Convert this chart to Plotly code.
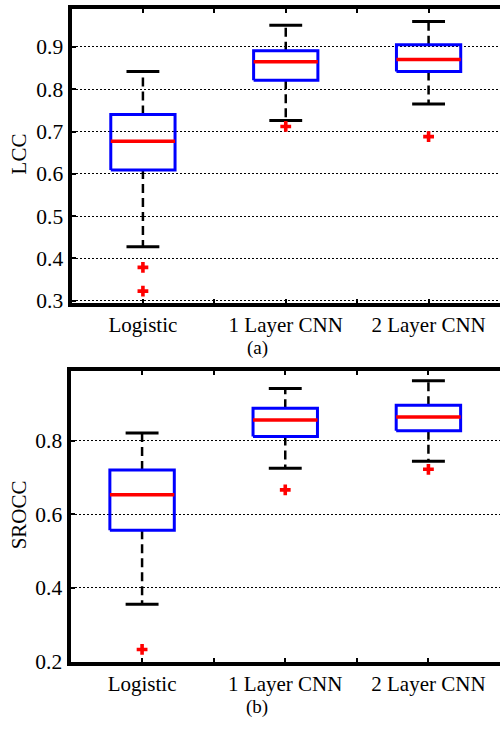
import plotly.graph_objects as go

categories = ["Logistic", "1 Layer CNN", "2 Layer CNN"]
positions = [1, 2, 3]

lcc_upper = [0.842, 0.951, 0.960]
lcc_q3 = [0.740, 0.891, 0.905]
lcc_median = [0.677, 0.865, 0.870]
lcc_q1 = [0.609, 0.821, 0.842]
lcc_lower = [0.428, 0.726, 0.765]
lcc_outliers = [[0.379, 0.323], [0.712], [0.688]]

srocc_upper = [0.821, 0.942, 0.963]
srocc_q3 = [0.720, 0.888, 0.896]
srocc_median = [0.653, 0.856, 0.864]
srocc_q1 = [0.556, 0.811, 0.827]
srocc_lower = [0.355, 0.725, 0.744]
srocc_outliers = [[0.232], [0.666], [0.722]]

lcc_ticks = [0.3, 0.4, 0.5, 0.6, 0.7, 0.8, 0.9]
srocc_ticks = [0.2, 0.4, 0.6, 0.8]

BOX_HW = 0.225
CAP_HW = 0.115
FONT = "Liberation Serif"

fig = go.Figure()


def add_boxes(xa, ya, upper, q3, med, q1, lower, outl):
    for p, u, a, m, b, l, o in zip(positions, upper, q3, med, q1, lower, outl):
        common = dict(xaxis=xa, yaxis=ya, showlegend=False, hoverinfo="skip")
        # whiskers
        fig.add_trace(go.Scatter(x=[p, p, None, p, p], y=[a, u, None, b, l], mode="lines",
                                 line=dict(color="black", width=2.5, dash="9px,5px"), **common))
        # caps
        fig.add_trace(go.Scatter(x=[p - CAP_HW, p + CAP_HW, None, p - CAP_HW, p + CAP_HW],
                                 y=[u, u, None, l, l], mode="lines",
                                 line=dict(color="black", width=3), **common))
        # box
        fig.add_trace(go.Scatter(x=[p - BOX_HW, p + BOX_HW, p + BOX_HW, p - BOX_HW, p - BOX_HW],
                                 y=[b, b, a, a, b], mode="lines",
                                 line=dict(color="#0000FF", width=3), **common))
        # median
        fig.add_trace(go.Scatter(x=[p - BOX_HW, p + BOX_HW], y=[m, m], mode="lines",
                                 line=dict(color="#FF0000", width=3.5), **common))
        # outliers
        fig.add_trace(go.Scatter(x=[p] * len(o), y=o, mode="markers",
                                 marker=dict(symbol="cross", size=9, color="#FF0000",
                                             line=dict(width=0)), **common))


add_boxes("x", "y", lcc_upper, lcc_q3, lcc_median, lcc_q1, lcc_lower, lcc_outliers)
add_boxes("x2", "y2", srocc_upper, srocc_q3, srocc_median, srocc_q1, srocc_lower, srocc_outliers)


def xax():
    return dict(range=[0.5, 3.5], tickvals=[1, 1.5, 2, 2.5, 3],
                ticktext=[categories[0], "", categories[1], "", categories[2]],
                showline=True, linewidth=4, linecolor="black", mirror="ticks",
                ticks="inside", ticklen=4, tickwidth=2, tickcolor="black",
                showgrid=False, zeroline=False,
                tickfont=dict(family=FONT, size=21, color="black"))


def yax():
    return dict(showline=True, linewidth=4, linecolor="black", mirror=False,
                ticks="inside", ticklen=4, tickwidth=2, tickcolor="black",
                showgrid=True, gridcolor="black", gridwidth=1, griddash="2px,2px",
                zeroline=False,
                tickfont=dict(family=FONT, size=21.5, color="black"))


ann_font = dict(family=FONT, size=21, color="black")
sub_font = dict(family=FONT, size=19, color="black")

fig.update_layout(
    width=500, height=729,
    margin=dict(l=0, r=0, t=0, b=0),
    paper_bgcolor="white", plot_bgcolor="white",
    font=dict(family=FONT),
    xaxis=dict(domain=[0.143, 1.0], anchor="y", **xax()),
    yaxis=dict(domain=[0.5775, 0.9877], anchor="x", range=[0.295, 0.99],
               tickvals=lcc_ticks, ticktext=[f"{v:.1f}" for v in lcc_ticks], **yax()),
    xaxis2=dict(domain=[0.141, 1.0], anchor="y2", **xax()),
    yaxis2=dict(domain=[0.0768, 0.4829], anchor="x2", range=[0.198, 0.99],
                tickvals=srocc_ticks, ticktext=[f"{v:.1f}" for v in srocc_ticks], **yax()),
    annotations=[
        dict(text="LCC", x=19 / 500, y=1 - 157 / 729, xref="paper", yref="paper",
             xanchor="center", yanchor="middle", textangle=-90, showarrow=False,
             font=ann_font),
        dict(text="SROCC", x=19 / 500, y=1 - 524 / 729, xref="paper", yref="paper",
             xanchor="center", yanchor="middle", textangle=-90, showarrow=False,
             font=ann_font),
        dict(text="(a)", x=257 / 500, y=1 - 354 / 729, xref="paper", yref="paper",
             xanchor="center", yanchor="middle", showarrow=False, font=sub_font),
        dict(text="(b)", x=257 / 500, y=1 - 719 / 729, xref="paper", yref="paper",
             xanchor="center", yanchor="middle", showarrow=False, font=sub_font),
    ],
)

fig.write_html("out.html")
